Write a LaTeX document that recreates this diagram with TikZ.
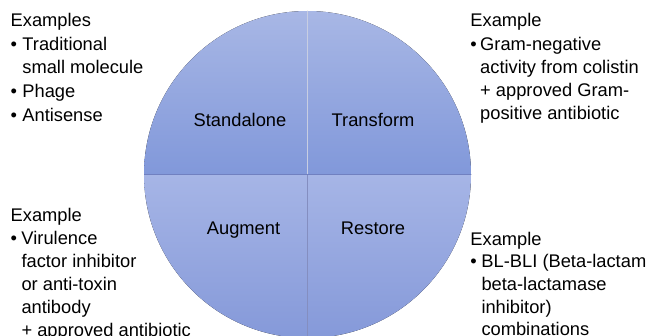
\documentclass[tikz,border=0pt]{standalone}
\usepackage{fontspec}
\setmainfont{Liberation Sans}
\definecolor{upTop}{RGB}{168,183,229}
\definecolor{upBot}{RGB}{129,152,218}
\definecolor{loTop}{RGB}{166,181,230}
\definecolor{loBot}{RGB}{133,153,217}
\definecolor{hline}{RGB}{112,128,192}
\definecolor{vup}{RGB}{200,206,226}
\definecolor{vlo}{RGB}{132,142,192}
\tikzset{
  txt/.style={font=\fontsize{18.3}{22}\selectfont, anchor=base west, inner sep=0pt},
  lbl/.style={font=\fontsize{18.3}{22}\selectfont, anchor=base, inner sep=0pt},
}
\newcommand{\bul}[1]{\makebox[#1pt][l]{\textbullet}}
\begin{document}
\begin{tikzpicture}[x=1pt,y=1pt]
\clip (0,0) rectangle (651,335);
\fill[white] (0,0) rectangle (651,335);
\coordinate (c) at (307.5,160.5);
% upper half
\fill[top color=upTop, bottom color=upBot] (c) ++(180:163.5) arc (180:0:163.5) -- cycle;
% lower half
\fill[top color=loTop, bottom color=loBot] (c) ++(180:163.5) arc (180:360:163.5) -- cycle;
% dividers
\coordinate (ctop) at (307.5,324);
\coordinate (cbot) at (307.5,-3);
\coordinate (cl) at (144,160.5);
\coordinate (cr) at (471,160.5);
\draw[vup, line width=1.2pt] (ctop) -- (c);
\draw[vlo, line width=0.8pt] (c) -- (cbot);
\draw[hline, line width=1pt] (cl) -- (cr);
% quadrant labels
\node[lbl] (s) at (240,208) {Standalone};
\node[lbl] (t) at (373,208) {Transform};
\node[lbl] (a) at (243.5,100.5) {Augment};
\node[lbl] (r) at (373,100.5) {Restore};
% upper left
\node[txt] (ul0) at (10.5,308) {Examples};
\node[txt] (ul1) at (10.5,284.7) {\bul{11.7}Traditional};
\node[txt] (ul2) at (22.2,261.5) {small molecule};
\node[txt] (ul3) at (10.5,237.7) {\bul{11.7}Phage};
\node[txt] (ul4) at (10.5,213.7) {\bul{11.7}Antisense};
% upper right
\node[txt] (ur0) at (470.2,308) {Example};
\node[txt] (ur1) at (470.2,284.7) {\bul{9.8}Gram-negative};
\node[txt] (ur2) at (480,261.5) {activity from colistin};
\node[txt] (ur3) at (480,238.2) {+ approved Gram-};
\node[txt] (ur4) at (480,215) {positive antibiotic};
% lower left
\node[txt] (ll0) at (10.5,113.5) {Example};
\node[txt] (ll1) at (10.5,90.5) {\bul{10.8}Virulence};
\node[txt] (ll2) at (21.3,67.5) {factor inhibitor};
\node[txt] (ll3) at (21.3,44.5) {or anti-toxin};
\node[txt] (ll4) at (21.3,21.5) {antibody};
\node[txt] (ll5) at (21.3,-1.5) {+ approved antibiotic};
% lower right
\node[txt] (lr0) at (470.2,89.5) {Example};
\node[txt] (lr1) at (470.2,67) {\bul{11.1}BL-BLI (Beta-lactam};
\node[txt] (lr2) at (481.3,44.2) {beta-lactamase};
\node[txt] (lr3) at (481.3,21.5) {inhibitor)};
\node[txt] (lr4) at (481.3,0) {combinations};
\end{tikzpicture}
\end{document}
